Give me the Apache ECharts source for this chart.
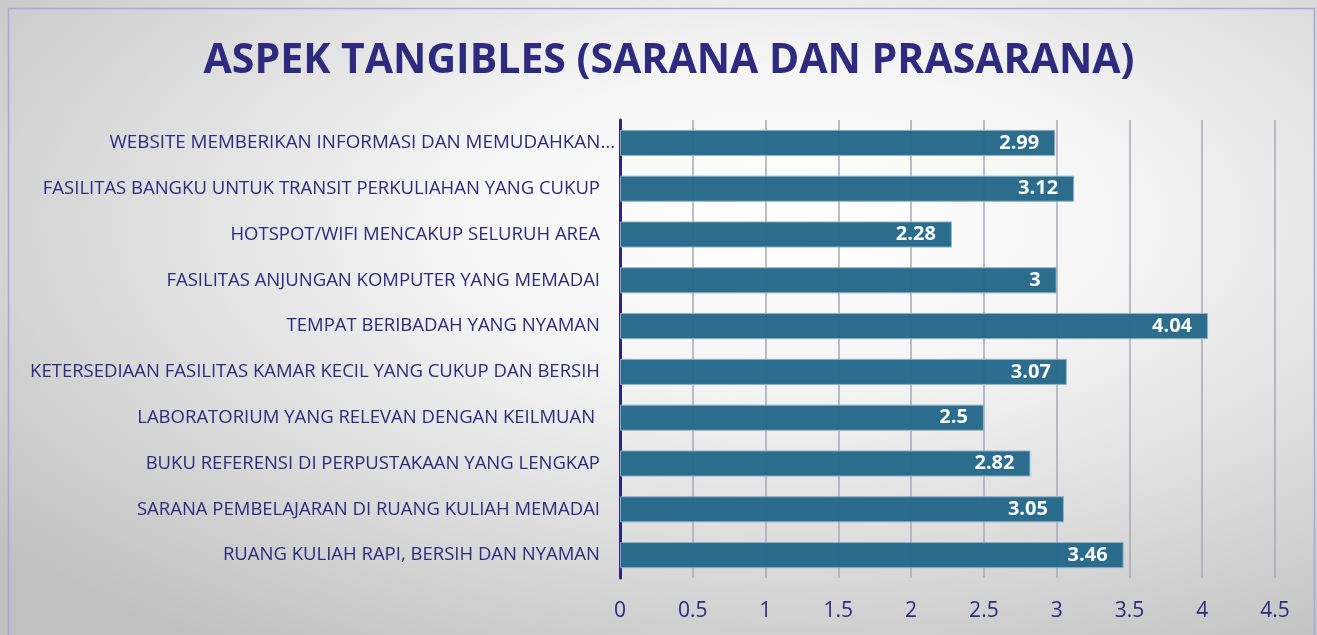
<!DOCTYPE html>
<html>
<head>
<meta charset="utf-8">
<script src="https://cdn.jsdelivr.net/npm/echarts@6/dist/echarts.min.js"></script>
<style>
html,body{margin:0;padding:0;background:#fff;}
#main{width:1317px;height:635px;}
</style>
</head>
<body>
<div id="main"></div>
<script>
// kategori, urut dari atas ke bawah
var kategori = [
	"WEBSITE MEMBERIKAN INFORMASI DAN MEMUDAHKAN…",
	"FASILITAS BANGKU UNTUK TRANSIT PERKULIAHAN YANG CUKUP",
	"HOTSPOT/WIFI MENCAKUP SELURUH AREA",
	"FASILITAS ANJUNGAN KOMPUTER YANG MEMADAI",
	"TEMPAT BERIBADAH YANG NYAMAN",
	"KETERSEDIAAN FASILITAS KAMAR KECIL YANG CUKUP DAN BERSIH",
	"LABORATORIUM YANG RELEVAN DENGAN KEILMUAN ",
	"BUKU REFERENSI DI PERPUSTAKAAN YANG LENGKAP",
	"SARANA PEMBELAJARAN DI RUANG KULIAH MEMADAI",
	"RUANG KULIAH RAPI, BERSIH DAN NYAMAN"
];
// nilai rata-rata
var nilai = [2.99, 3.12, 2.28, 3, 4.04, 3.07, 2.5, 2.82, 3.05, 3.46];
// label sumbu x
var tickLabels = [0, 0.5, 1, 1.5, 2, 2.5, 3, 3.5, 4, 4.5];

var warnaTeks = "#2e2a7e";
var myChart = echarts.init(document.getElementById("main"));

// label pertama (terpotong) lebih dekat ke sumbu
var dataKategori = kategori.map(function(k, i){
	if (i === 0) return {value: k, textStyle: {padding: [0, -15, 0, 0], fontSize: 18.8}};
	return k;
});

var option = {
	backgroundColor: "#ffffff",
	textStyle: {fontFamily: "Open Sans"},
	graphic: [{
		// latar gradasi elips
		type: "rect", z: -10, silent: true,
		shape: {x: 0, y: 0, width: 635, height: 635},
		scaleX: 1317 / 635,
		style: {
			fill: {
				type: "radial", x: 0.6, y: 0.35, r: 0.8,
				colorStops: [
					{offset: 0, color: "#ffffff"},
					{offset: 0.3, color: "#f6f6f6"},
					{offset: 0.65, color: "#dcdcdc"},
					{offset: 1, color: "#c0c0c0"}
				]
			}
		}
	}, {
		type: "rect", silent: true,
		shape: {x: 8.5, y: 8.5, width: 1306, height: 640},
		style: {fill: "none", stroke: "#a9a4e6", lineWidth: 1.5}
	}],
	title: {
		text: "ASPEK TANGIBLES (SARANA DAN PRASARANA)",
		left: 664, top: 36, textAlign: "center",
		textStyle: {color: warnaTeks, fontSize: 41, fontWeight: "bold", fontFamily: "Open Sans"}
	},
	grid: {left: 620, right: 42, top: 120, bottom: 57, containLabel: false},
	xAxis: {
		type: "value", min: 0, max: 4.5, interval: 0.5,
		axisLine: {show: false},
		axisTick: {show: false},
		axisLabel: {
			color: warnaTeks, fontSize: 21, margin: 23,
			formatter: function(v){ return tickLabels.indexOf(v) >= 0 ? String(v) : ""; }
		},
		splitLine: {lineStyle: {color: "#a8a8b4", width: 1.5}}
	},
	yAxis: {
		type: "category", data: dataKategori, inverse: true,
		axisLine: {lineStyle: {color: "#2a2582", width: 3}},
		axisTick: {show: false},
		axisLabel: {color: warnaTeks, fontSize: 18.5, margin: 20}
	},
	series: [{
		type: "bar",
		data: nilai,
		barCategoryGap: "43%",
		itemStyle: {color: "#25688a", borderColor: "#8fb3c6", borderWidth: 1, opacity: 0.97},
		label: {
			show: true, position: "insideRight", distance: 16,
			color: "#ffffff", fontSize: 20, fontWeight: "bold", fontFamily: "Open Sans"
		}
	}]
};
myChart.setOption(option);
</script>
</body>
</html>
